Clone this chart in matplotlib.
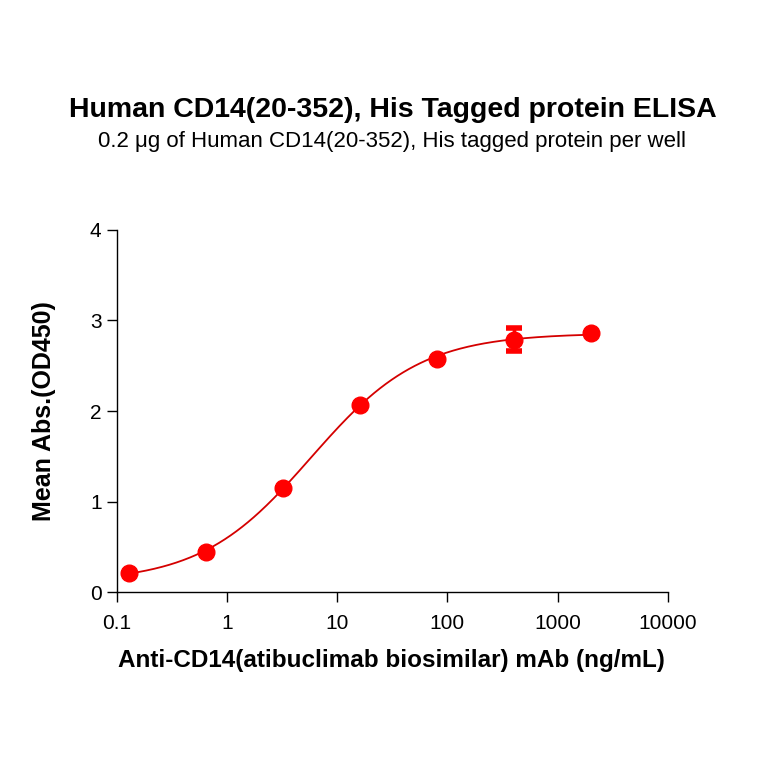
#ELISA binding curve: Anti-CD14 mAb on Human CD14(20-352), His tagged protein

import numpy as np
import matplotlib
matplotlib.use('Agg')
import matplotlib.pyplot as plt
from matplotlib.ticker import FixedLocator, FixedFormatter, NullLocator

plt.rcParams['font.family'] = ['Liberation Sans', 'DejaVu Sans']

#Given data
conc = np.array([0.128, 0.64, 3.2, 16, 80, 400, 2000])    #ng/mL
od450 = np.array([0.215, 0.44, 1.15, 2.07, 2.58, 2.79, 2.86])
err = np.array([0.0, 0.0, 0.0, 0.0, 0.0, 0.13, 0.0])

xticks = [0.1, 1, 10, 100, 1000, 10000]
xtick_labels = ['0.1', '1', '10', '100', '1000', '10000']
yticks = [0, 1, 2, 3, 4]

title = 'Human CD14(20-352), His Tagged protein ELISA'
subtitle = '0.2 \u03bcg of Human CD14(20-352), His tagged protein per well'
xlabel = 'Anti-CD14(atibuclimab biosimilar) mAb (ng/mL)'
ylabel = 'Mean Abs.(OD450)'

#4PL fit: grid over ec50 and hill, bottom/top by linear least squares
best = None
for lc in np.linspace(-0.5, 2.0, 251):
    for h in np.linspace(0.5, 2.0, 151):
        g = 1.0/(1.0 + (10**lc/conc)**h)
        A = np.vstack((np.ones_like(g), g)).T
        coef, res, rk, sv = np.linalg.lstsq(A, od450, rcond=None)
        r = np.sum((A@coef - od450)**2)
        if best is None or r < best[0]:
            best = (r, lc, h, coef)
_, lc, h, coef = best
xx = np.logspace(np.log10(conc[0]), np.log10(conc[-1]), 400)
yy = coef[0] + coef[1]/(1.0 + (10**lc/xx)**h)

fig = plt.figure(figsize=(7.64, 7.64), dpi=100)
ax = fig.add_axes([0.153, 0.225, 0.721, 0.474])

ax.plot(xx, yy, color='#d40000', lw=1.3, zorder=2)
ax.errorbar(conc, od450, yerr=err, fmt='o', color='#ff0000', ms=12,
            ecolor='#ff0000', elinewidth=2.5, capsize=6, capthick=4, zorder=3)

ax.set_xscale('log')
ax.set_xlim(0.1, 10000)
ax.set_ylim(0, 4)
ax.xaxis.set_major_locator(FixedLocator(xticks))
ax.xaxis.set_major_formatter(FixedFormatter(xtick_labels))
ax.xaxis.set_minor_locator(NullLocator())
ax.set_yticks(yticks)

for s in ['top', 'right']:
    ax.spines[s].set_visible(False)
for s in ['left', 'bottom']:
    ax.spines[s].set_linewidth(1.0)
ax.tick_params(axis='both', direction='out', length=7, width=1.0, labelsize=15)
ax.tick_params(axis='x', pad=8.5)
ax.tick_params(axis='y', pad=4)

ax.set_xlabel(xlabel, fontsize=17.5, fontweight='bold')
ax.set_ylabel(ylabel, fontsize=18, fontweight='bold')
ax.xaxis.set_label_coords(0.499, -0.158)
ax.yaxis.set_label_coords(-0.11, 0.5)

fig.text(0.514, 0.847, title, ha='center', va='baseline', fontsize=20.5, fontweight='bold')
fig.text(0.513, 0.8075, subtitle, ha='center', va='baseline', fontsize=16)

plt.savefig('out.png', dpi=100)
